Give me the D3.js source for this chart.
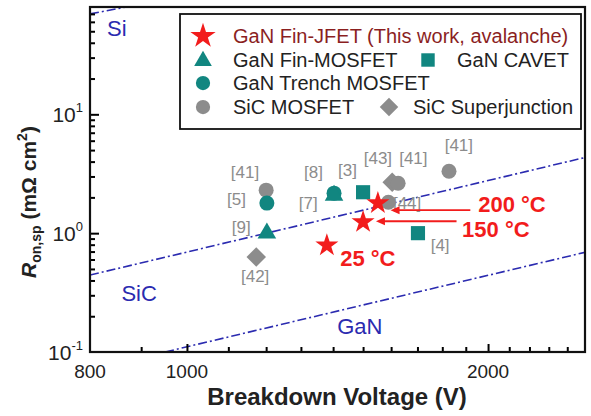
<!DOCTYPE html>
<html>
<head>
<meta charset="utf-8">
<script src="https://cdn.jsdelivr.net/npm/d3@7"></script>
<style>
  body { margin: 0; background: #fff; }
  text { font-family: "Liberation Sans", Arial, sans-serif; }
</style>
</head>
<body>
<div id="chart"></div>
<script>
const width = 591;
const height = 416;

// limit lines (two end points each)
const limitNames = ["Si", "SiC", "GaN"];
const limitEnds = [
  [[800, 70], [870, 80]],
  [[800, 0.444], [2500, 4.33]],
  [[951, 0.1], [2500, 0.69]]
];
const limitLabelAt = [[832, 46], [860, 0.27], [1413, 0.143]];

// reference devices: [V, Ron, type, ref]
const refPoints = [
  [1200, 2.30, "sicMos", "[41]"],
  [1202, 1.79, "ganTrench", "[5]"],
  [1202, 1.02, "ganFin", "[9]"],
  [1173, 0.63, "sicSJ", "[42]"],
  [1403, 2.17, "ganTrench", "[8]"],
  [1403, 2.12, "ganFin", "[7]"],
  [1500, 2.21, "cavet", "[3]"],
  [1604, 2.68, "sicSJ", "[43]"],
  [1626, 2.63, "sicMos", "[41]"],
  [1828, 3.32, "sicMos", "[41]"],
  [1590, 1.82, "sicMos", "[44]"],
  [1702, 1.00, "cavet", "[4]"]
];
// where each ref tag sits (text centre, in data units)
const refLabelAt = [
  [1143, 3.26], [1121, 1.93], [1133, 1.12], [1170, 0.435],
  [1338, 3.26], [1322, 1.79], [1447, 3.38], [1552, 4.27],
  [1684, 4.27], [1870, 5.49], [1660, 1.79], [1791, 0.79]
];

// this work: [V, Ron, label]
const thisWork = [
  [1380, 0.79, "25 °C"],
  [1500, 1.24, "150 °C"],
  [1552, 1.79, "200 °C"]
];
const workLabelAt = [[1423, 0.528], [1884, 0.926], [1955, 1.50]];
// arrows from the 150 / 200 °C labels: [V from, V to, Ron]
const arrows = [null, [1860, 1545, 1.26], [1920, 1598, 1.56]];

const xTickLabels = [800, 1000, 2000];
const yTickExp = [-1, 0, 1];

const teal = "#118680";
const gray = "#8c8c8c";
const red = "#f21c1c";
const blue = "#2b2bb0";

const margin = { left: 90, right: 6, top: 7, bottom: 64 };

const svg = d3.select("#chart").append("svg")
  .attr("width", width)
  .attr("height", height);

const x = d3.scaleLog().domain([800, 2500]).range([margin.left, width - margin.right]);
const y = d3.scaleLog().domain([0.1, 80]).range([height - margin.bottom, margin.top]);

const plot = svg.append("g");

svg.append("clipPath").attr("id", "clip")
  .append("rect")
  .attr("x", x.range()[0]).attr("y", y.range()[1])
  .attr("width", x.range()[1] - x.range()[0])
  .attr("height", y.range()[0] - y.range()[1]);

// limit lines
const line = d3.line().x(d => x(d[0])).y(d => y(d[1]));
plot.selectAll("path.limit")
  .data(limitEnds)
  .enter().append("path")
  .attr("class", "limit")
  .attr("clip-path", "url(#clip)")
  .attr("d", line)
  .attr("fill", "none")
  .attr("stroke", blue)
  .attr("stroke-width", 1.6)
  .attr("stroke-dasharray", "9,3,2,3");

plot.selectAll("text.limitLabel")
  .data(limitNames)
  .enter().append("text")
  .attr("x", (d, i) => x(limitLabelAt[i][0]))
  .attr("y", (d, i) => y(limitLabelAt[i][1]))
  .attr("fill", blue)
  .attr("font-size", 22)
  .text(d => d);

function drawSymbol(g, type, cx, cy, scale) {
  const s = scale || 1;
  if (type === "sicMos") {
    g.append("circle").attr("cx", cx).attr("cy", cy).attr("r", 7.5 * s).attr("fill", gray);
  } else if (type === "ganTrench") {
    g.append("circle").attr("cx", cx).attr("cy", cy).attr("r", 7.5 * s).attr("fill", teal);
  } else if (type === "ganFin") {
    g.append("path").attr("transform", `translate(${cx},${cy + 1})`)
      .attr("d", d3.symbol(d3.symbolTriangle).size(150 * s * s)).attr("fill", teal);
  } else if (type === "cavet") {
    g.append("path").attr("transform", `translate(${cx},${cy})`)
      .attr("d", d3.symbol(d3.symbolSquare).size(200 * s * s)).attr("fill", teal);
  } else if (type === "sicSJ") {
    g.append("path").attr("transform", `translate(${cx},${cy}) rotate(45)`)
      .attr("d", d3.symbol(d3.symbolSquare).size(190 * s * s)).attr("fill", gray);
  } else if (type === "star") {
    g.append("path").attr("transform", `translate(${cx},${cy})`)
      .attr("d", d3.symbol(d3.symbolStar).size(165 * s * s)).attr("fill", red);
  }
}

const pts = plot.append("g");
refPoints.forEach(d => drawSymbol(pts, d[2], x(d[0]), y(d[1])));

plot.selectAll("text.ref")
  .data(refPoints)
  .enter().append("text")
  .attr("class", "ref")
  .attr("x", (d, i) => x(refLabelAt[i][0]))
  .attr("y", (d, i) => y(refLabelAt[i][1]))
  .attr("text-anchor", "middle")
  .attr("dominant-baseline", "central")
  .attr("font-size", 17)
  .attr("fill", gray)
  .text(d => d[3]);

// red arrows
arrows.forEach(a => {
  if (!a) return;
  const x1 = x(a[0]), x2 = x(a[1]), yy = y(a[2]);
  plot.append("line")
    .attr("x1", x1).attr("y1", yy)
    .attr("x2", x2 + 6).attr("y2", yy)
    .attr("stroke", red).attr("stroke-width", 1.8);
  plot.append("path")
    .attr("d", `M${x2},${yy} L${x2 + 9},${yy - 4} L${x2 + 9},${yy + 4} Z`)
    .attr("fill", red);
});

thisWork.forEach(d => drawSymbol(pts, "star", x(d[0]), y(d[1])));

plot.selectAll("text.work")
  .data(thisWork)
  .enter().append("text")
  .attr("x", (d, i) => x(workLabelAt[i][0]))
  .attr("y", (d, i) => y(workLabelAt[i][1]))
  .attr("font-size", 22)
  .attr("font-weight", "bold")
  .attr("fill", red)
  .text(d => d[2]);

// axes, ticks inside
const xAxis = d3.axisBottom(x)
  .tickValues(d3.range(900, 2500, 100))
  .tickSizeOuter(0)
  .tickFormat("");
const gx = svg.append("g").attr("transform", `translate(0,${y.range()[0]})`).call(xAxis);
gx.selectAll(".tick line")
  .attr("y2", d => (d === 1000 || d === 2000) ? -8 : -5)
  .attr("stroke-width", 2);
gx.select(".domain").remove();

svg.selectAll("text.xlab")
  .data(xTickLabels)
  .enter().append("text")
  .attr("x", d => x(d))
  .attr("y", y.range()[0] + 26)
  .attr("text-anchor", "middle")
  .attr("font-size", 19)
  .attr("fill", "#222")
  .text(d => d);

const yMinor = [];
[0.1, 1, 10].forEach(b => { for (let k = 2; k <= 9; k++) if (b * k < 80) yMinor.push(b * k); });
const yAxis = d3.axisLeft(y)
  .tickValues(yMinor.concat([1, 10]))
  .tickSizeOuter(0)
  .tickFormat("");
const gy = svg.append("g").attr("transform", `translate(${x.range()[0]},0)`).call(yAxis);
gy.selectAll(".tick line")
  .attr("x2", d => [0.1, 1, 10].includes(d) ? 9 : 5)
  .attr("stroke-width", 2);
gy.select(".domain").remove();

const yl = svg.selectAll("text.ylab")
  .data(yTickExp)
  .enter().append("text")
  .attr("x", 83)
  .attr("y", d => y(Math.pow(10, d)) + 8)
  .attr("text-anchor", "end")
  .attr("font-size", 21)
  .attr("fill", "#222");
yl.append("tspan").text("10");
yl.append("tspan").attr("dy", -10).attr("font-size", 13).text(d => d);

// frame
svg.append("rect")
  .attr("x", x.range()[0]).attr("y", y.range()[1])
  .attr("width", x.range()[1] - x.range()[0])
  .attr("height", y.range()[0] - y.range()[1])
  .attr("fill", "none").attr("stroke", "#111").attr("stroke-width", 2.2);

// axis titles
svg.append("text")
  .attr("x", 337).attr("y", 405)
  .attr("text-anchor", "middle")
  .attr("font-size", 24).attr("font-weight", "bold")
  .attr("fill", "#222")
  .text("Breakdown Voltage (V)");

const yt = svg.append("text")
  .attr("transform", "translate(36,202) rotate(-90)")
  .attr("text-anchor", "middle")
  .attr("font-size", 21).attr("font-weight", "bold")
  .attr("fill", "#222");
yt.append("tspan").attr("font-style", "italic").text("R");
yt.append("tspan").attr("font-size", 14).attr("dy", 5).text("on,sp");
yt.append("tspan").attr("dy", -5).text(" (mΩ cm");
yt.append("tspan").attr("font-size", 14).attr("dy", -9).text("2");
yt.append("tspan").attr("dy", 9).text(")");

// legend
const lg = svg.append("g");
lg.append("rect")
  .attr("x", 180).attr("y", 14)
  .attr("width", 401).attr("height", 115)
  .attr("fill", "#fff").attr("stroke", "#111").attr("stroke-width", 1.8);

const legendTypes = ["star", "ganFin", "cavet", "ganTrench", "sicMos", "sicSJ"];
const legendNames = ["GaN Fin-JFET (This work, avalanche)", "GaN Fin-MOSFET", "GaN CAVET",
  "GaN Trench MOSFET", "SiC MOSFET", "SiC Superjunction"];
const legendPos = [[203, 233, 36], [203, 233, 60], [428, 457, 60], [203, 233, 83], [203, 233, 107], [389, 413, 107]];
legendTypes.forEach((t, i) => {
  const p = legendPos[i];
  drawSymbol(lg, t, p[0], p[2], t === "star" ? 1.1 : 0.95);
  lg.append("text")
    .attr("x", p[1]).attr("y", p[2] + 7)
    .attr("font-size", 20)
    .attr("fill", i === 0 ? "#8b1f1f" : "#222")
    .text(legendNames[i]);
});
</script>
</body>
</html>
